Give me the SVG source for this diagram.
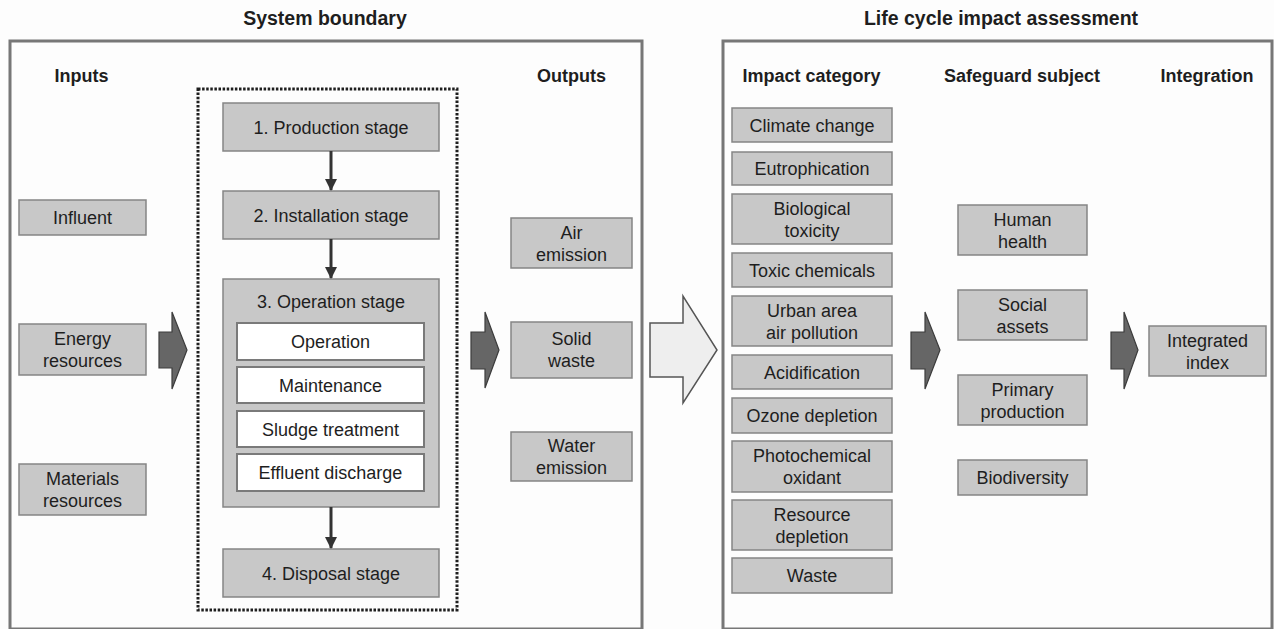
<svg xmlns="http://www.w3.org/2000/svg" width="1274" height="629" viewBox="0 0 1274 629">
<defs>
<style>
text{font-family:"Liberation Sans",Arial,sans-serif;fill:#1e1e1e;text-anchor:middle}
.title{font-size:19.5px;font-weight:bold}
.hdr{font-size:18px;font-weight:bold}
.t{font-size:18px}
.frame{fill:none;stroke:#777;stroke-width:3}
.box{fill:#c8c8c8;stroke:#858585;stroke-width:1.5}
.wbox{fill:#fff;stroke:#7a7a7a;stroke-width:2}
.dots{fill:none;stroke:#1e1e1e;stroke-width:3;stroke-dasharray:2.5 1.6}
.blk{fill:#666;stroke:#3c3c3c;stroke-width:1.2}
.big{fill:#eeeeee;stroke:#555;stroke-width:1.5}
.link{stroke:#333;stroke-width:3;fill:none}
</style>
<marker id="ah" viewBox="0 0 12 12" refX="11" refY="6" markerWidth="12" markerHeight="12" markerUnits="userSpaceOnUse" orient="auto">
<path d="M0,0 L12,6 L0,12 Z" fill="#333"/>
</marker>
</defs>
<rect width="1274" height="629" fill="#fdfdfd"/>

<g id="system-boundary">
<text class="title" x="325" y="25">System boundary</text>
<rect class="frame" x="10" y="41" width="632" height="588"/>
<text class="hdr" x="81.5" y="82">Inputs</text>
<text class="hdr" x="571.5" y="82">Outputs</text>
<rect class="dots" x="198" y="89" width="259" height="521"/>
</g>

<g id="lcia">
<text class="title" x="1001" y="25">Life cycle impact assessment</text>
<rect class="frame" x="723" y="41" width="549" height="588"/>
<text class="hdr" x="811.5" y="82">Impact category</text>
<text class="hdr" x="1022" y="82">Safeguard subject</text>
<text class="hdr" x="1207" y="82">Integration</text>
</g>

<g id="in-influent"><rect class="box" x="19" y="200" width="127" height="35"/><text class="t" x="82.5" y="224">Influent</text></g>
<g id="in-energy"><rect class="box" x="19" y="324" width="127" height="51"/><text class="t" x="82.5" y="345">Energy</text><text class="t" x="82.5" y="367">resources</text></g>
<g id="in-materials"><rect class="box" x="19" y="464" width="127" height="51"/><text class="t" x="82.5" y="485">Materials</text><text class="t" x="82.5" y="507">resources</text></g>

<g id="stage1"><rect class="box" x="223" y="103" width="216" height="48"/><text class="t" x="331" y="133.5">1. Production stage</text></g>
<g id="stage2"><rect class="box" x="223" y="191" width="216" height="48"/><text class="t" x="331" y="221.5">2. Installation stage</text></g>
<g id="stage3">
<rect class="box" x="223" y="279" width="216" height="228"/>
<text class="t" x="331" y="308">3. Operation stage</text>
<rect class="wbox" x="237" y="323" width="187" height="37"/><text class="t" x="330.5" y="348">Operation</text>
<rect class="wbox" x="237" y="367" width="187" height="36"/><text class="t" x="330.5" y="391.5">Maintenance</text>
<rect class="wbox" x="237" y="411" width="187" height="36"/><text class="t" x="330.5" y="435.5">Sludge treatment</text>
<rect class="wbox" x="237" y="454" width="187" height="37"/><text class="t" x="330.5" y="479">Effluent discharge</text>
</g>
<g id="stage4"><rect class="box" x="223" y="549" width="216" height="48"/><text class="t" x="331" y="579.5">4. Disposal stage</text></g>

<g id="out-air"><rect class="box" x="511" y="218" width="121" height="50"/><text class="t" x="571.5" y="239">Air</text><text class="t" x="571.5" y="261">emission</text></g>
<g id="out-solid"><rect class="box" x="511" y="322" width="121" height="56"/><text class="t" x="571.5" y="345">Solid</text><text class="t" x="571.5" y="367">waste</text></g>
<g id="out-water"><rect class="box" x="511" y="432" width="121" height="49"/><text class="t" x="571.5" y="452">Water</text><text class="t" x="571.5" y="474">emission</text></g>

<g id="ic-climate"><rect class="box" x="732" y="108" width="160" height="34"/><text class="t" x="812" y="131.5">Climate change</text></g>
<g id="ic-eutro"><rect class="box" x="732" y="152" width="160" height="33"/><text class="t" x="812" y="175">Eutrophication</text></g>
<g id="ic-bio"><rect class="box" x="732" y="194" width="160" height="50"/><text class="t" x="812" y="215">Biological</text><text class="t" x="812" y="237">toxicity</text></g>
<g id="ic-toxic"><rect class="box" x="732" y="253" width="160" height="34"/><text class="t" x="812" y="276.5">Toxic chemicals</text></g>
<g id="ic-urban"><rect class="box" x="732" y="296" width="160" height="50"/><text class="t" x="812" y="317">Urban area</text><text class="t" x="812" y="339">air pollution</text></g>
<g id="ic-acid"><rect class="box" x="732" y="355" width="160" height="34"/><text class="t" x="812" y="378.5">Acidification</text></g>
<g id="ic-ozone"><rect class="box" x="732" y="398" width="160" height="35"/><text class="t" x="812" y="422">Ozone depletion</text></g>
<g id="ic-photo"><rect class="box" x="732" y="441" width="160" height="51"/><text class="t" x="812" y="462">Photochemical</text><text class="t" x="812" y="484">oxidant</text></g>
<g id="ic-resource"><rect class="box" x="732" y="500" width="160" height="50"/><text class="t" x="812" y="521">Resource</text><text class="t" x="812" y="543">depletion</text></g>
<g id="ic-waste"><rect class="box" x="732" y="558" width="160" height="35"/><text class="t" x="812" y="582">Waste</text></g>

<g id="sg-human"><rect class="box" x="958" y="205" width="129" height="50"/><text class="t" x="1022.5" y="226">Human</text><text class="t" x="1022.5" y="248">health</text></g>
<g id="sg-social"><rect class="box" x="958" y="290" width="129" height="50"/><text class="t" x="1022.5" y="311">Social</text><text class="t" x="1022.5" y="333">assets</text></g>
<g id="sg-primary"><rect class="box" x="958" y="375" width="129" height="50"/><text class="t" x="1022.5" y="396">Primary</text><text class="t" x="1022.5" y="418">production</text></g>
<g id="sg-bio"><rect class="box" x="958" y="460" width="129" height="35"/><text class="t" x="1022.5" y="484">Biodiversity</text></g>

<g id="integrated"><rect class="box" x="1149" y="326" width="117" height="50"/><text class="t" x="1207.5" y="347">Integrated</text><text class="t" x="1207.5" y="369">index</text></g>

<g id="connectors">
<line class="link" x1="331" y1="151" x2="331" y2="190" marker-end="url(#ah)"/>
<line class="link" x1="331" y1="239" x2="331" y2="278" marker-end="url(#ah)"/>
<line class="link" x1="331" y1="507" x2="331" y2="548" marker-end="url(#ah)"/>
<path class="blk" d="M159,332 H172 V312 L187,350 L172,389 V368 H159 Z"/>
<path class="blk" d="M471,332 H485 V312 L499,350 L485,388 V369 H471 Z"/>
<path class="big" d="M650,323 H683 V296 L717,350 L683,403 V377 H650 Z"/>
<path class="blk" d="M911,332 H925 V312 L940,350 L925,389 V369 H911 Z"/>
<path class="blk" d="M1111,332 H1124 V312 L1138,350 L1124,389 V369 H1111 Z"/>
</g>
</svg>
